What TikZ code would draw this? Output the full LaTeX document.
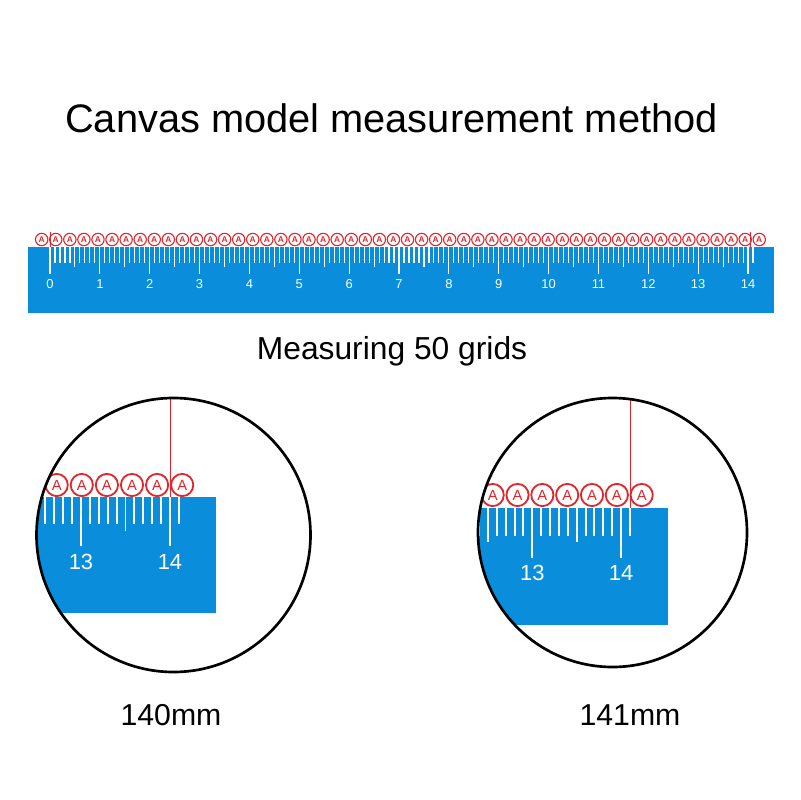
\documentclass[tikz,border=0pt]{standalone}
\usepackage{fontspec}
\setmainfont{Liberation Sans}
\definecolor{rulerblue}{RGB}{10,142,219}
\definecolor{markred}{RGB}{225,38,45}

\begin{document}
\begin{tikzpicture}[x=0.025cm, y=-0.025cm,
    ruler/.style={fill=rulerblue},
    tick/.style={white, line width=0.8pt},
    bigtick/.style={white, line width=1.4pt},
    toplabel/.style={white, anchor=base, inner sep=0pt, font=\fontsize{9.2}{11}\selectfont},
    biglabel/.style={white, anchor=base, inner sep=0pt, font=\fontsize{15.6}{18}\selectfont},
    ringA/.style={circle, draw=markred, text=markred, line width=0.8pt, minimum size=8.8pt, inner sep=0pt, font=\fontsize{6}{6}\selectfont\bfseries},
    bigringA/.style={circle, draw=markred, text=markred, line width=1.3pt, minimum size=15.8pt, inner sep=0pt, font=\fontsize{10.5}{10.5}\selectfont},
    marker/.style={markred, line width=0.6pt},
    lens/.style={draw=black, line width=1.9pt},
    caption/.style={anchor=base, inner sep=0pt, font=\fontsize{21.5}{26}\selectfont}]
    \useasboundingbox (0,0) rectangle (800,800);

    % Titles
    \node[anchor=base, inner sep=0pt, font=\fontsize{28.3}{34}\selectfont] (title) at (391.5,132.5) {Canvas model measurement method};
    \node[anchor=base, inner sep=0pt, font=\fontsize{22.6}{27}\selectfont] (grids) at (392,359.5) {Measuring 50 grids};

    % Full ruler
    \fill[ruler] (28,246.5) rectangle (774,312.5);
    \foreach \m in {0,...,141}{
        \pgfmathsetmacro\tickend{ifthenelse(mod(\m,10)==0,274,ifthenelse(mod(\m,5)==0,267,263))}
        \draw[tick] (50+\m*4.986,246.5) -- (50+\m*4.986,\tickend);
    }
    \foreach \c in {0,...,14}
        \node[toplabel] (top\c) at (50+\c*49.86,288) {\c};
    \foreach \i in {0,...,51}
        \node[ringA] (topA\i) at (41.7+\i*14.07,239.5) {A};
    \draw[marker, line width=0.4pt] (50,232) -- (50,246.5);
    \draw[marker, line width=0.4pt] (750,232) -- (750,246.5);

    % Left lens: 140mm
    \begin{scope}
        \clip (173.5,535) circle (137);
        \fill[ruler] (20,497) rectangle (216,613);
        \foreach \m in {123,...,141}{
            \pgfmathsetmacro\tickend{ifthenelse(mod(\m,10)==0,546,ifthenelse(mod(\m,5)==0,531,524))}
            \draw[bigtick] (170+\m*8.9-1246,497) -- (170+\m*8.9-1246,\tickend);
        }
        \node[biglabel] (left13) at (81,569.5) {13};
        \node[biglabel] (left14) at (170,569.5) {14};
        \foreach \i in {0,...,5}
            \node[bigringA] (leftA\i) at (56.7+\i*25.1,485) {A};
        \draw[marker] (170,398) -- (170,497);
    \end{scope}
    \draw[lens] (173.5,535) circle (137);
    \node[caption] (left mm) at (171,725) {140mm};

    % Right lens: 141mm
    \begin{scope}
        \clip (612.5,532.5) circle (134.5);
        \fill[ruler] (460,508) rectangle (667.7,625);
        \foreach \m in {123,...,141}{
            \pgfmathsetmacro\tickend{ifthenelse(mod(\m,10)==0,558,ifthenelse(mod(\m,5)==0,542,535.7))}
            \draw[bigtick] (621+\m*8.87-1241.8,508) -- (621+\m*8.87-1241.8,\tickend);
        }
        \node[biglabel] (right13) at (532.3,580) {13};
        \node[biglabel] (right14) at (621,580) {14};
        \foreach \i in {0,...,6}
            \node[bigringA] (rightA\i) at (492.7+\i*24.83,495) {A};
        \draw[marker] (630,398) -- (630,508);
    \end{scope}
    \draw[lens] (612.5,532.5) circle (134.5);
    \node[caption] (right mm) at (630,725) {141mm};
\end{tikzpicture}
\end{document}
